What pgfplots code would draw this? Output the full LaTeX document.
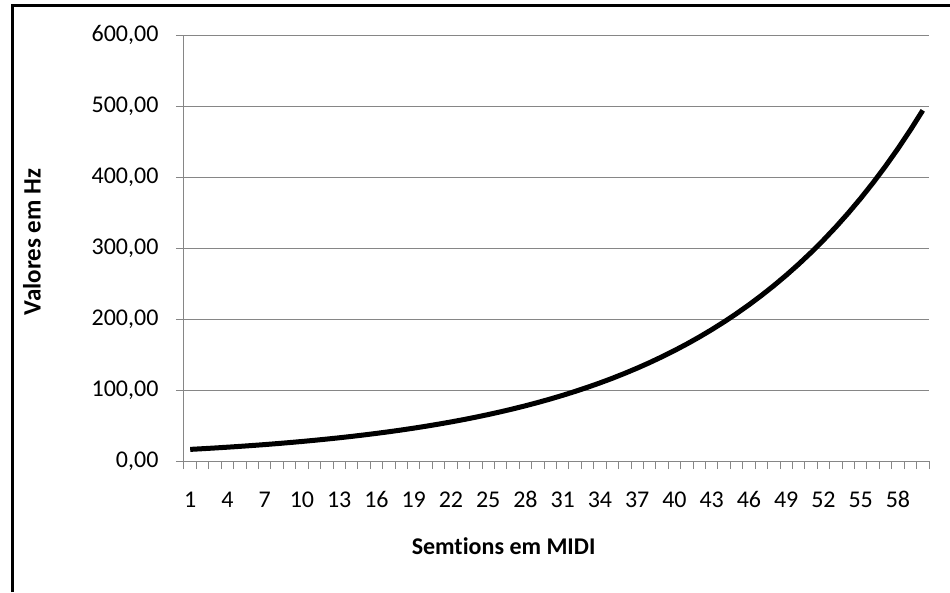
\documentclass[border=0pt]{standalone}
\usepackage{fontspec}
\setmainfont{Carlito}[Ligatures={NoCommon}]
\usepackage{pgfplots}
\pgfplotsset{compat=1.18}

\definecolor{gridgray}{RGB}{134,134,134}

\begin{document}
\begin{tikzpicture}[x=1pt,y=1pt]
\useasboundingbox (0,0) rectangle (950,592);

\begin{axis}[
	at={(184pt,131pt)}, anchor=south west,
	scale only axis,
	width=745pt, height=426pt,
	xmin=0.5, xmax=60.5,
	ymin=0, ymax=600,
	axis x line*=bottom,
	axis y line*=left,
	axis line style={gridgray, line width=1pt},
	tick align=outside,
	tick pos=left,
	major tick length=8pt,
	every tick/.style={gridgray, line width=1pt},
	xtick={0.5,1.5,...,60.5},
	xticklabels={},
	extra x ticks={1,4,...,58},
	extra x tick style={major tick length=0pt, grid=none},
	ytick={0,100,...,600},
	ymajorgrids,
	y grid style={gridgray, line width=1pt},
	/pgf/number format/assume math mode=true,
	yticklabel style={
		font=\fontsize{24}{24}\selectfont, xshift=-14pt,
		/pgf/number format/.cd, fixed, fixed zerofill, precision=2, use comma, 1000 sep={}
	},
	xticklabel style={font=\fontsize{24}{24}\selectfont, anchor=north,
		text height=16pt, text depth=0pt, yshift=-27pt},
	xlabel={\textbf{Semtions em MIDI}},
	ylabel={\textbf{Valores em Hz}},
	xlabel style={font=\fontsize{24}{24}\selectfont, at={(axis description cs:0.429,-0.2)}, anchor=center},
	ylabel style={font=\fontsize{25}{25}\selectfont, at={(axis description cs:-0.204,0.514)}, anchor=center},
	]
\addplot [black, line width=5pt, line join=round] coordinates {
(1,16.35) (2,17.32) (3,18.35) (4,19.45) (5,20.60) (6,21.83)
(7,23.12) (8,24.50) (9,25.96) (10,27.50) (11,29.14) (12,30.87)
(13,32.70) (14,34.65) (15,36.71) (16,38.89) (17,41.20) (18,43.65)
(19,46.25) (20,49.00) (21,51.91) (22,55.00) (23,58.27) (24,61.74)
(25,65.41) (26,69.30) (27,73.42) (28,77.78) (29,82.41) (30,87.31)
(31,92.50) (32,98.00) (33,103.83) (34,110.00) (35,116.54) (36,123.47)
(37,130.81) (38,138.59) (39,146.83) (40,155.56) (41,164.81) (42,174.61)
(43,185.00) (44,196.00) (45,207.65) (46,220.00) (47,233.08) (48,246.94)
(49,261.63) (50,277.18) (51,293.66) (52,311.13) (53,329.63) (54,349.23)
(55,369.99) (56,392.00) (57,415.30) (58,440.00) (59,466.16) (60,493.88)
};
\end{axis}

\draw[black, line width=3pt] (12,0) -- (12,586) -- (952,586);
\end{tikzpicture}
\end{document}
